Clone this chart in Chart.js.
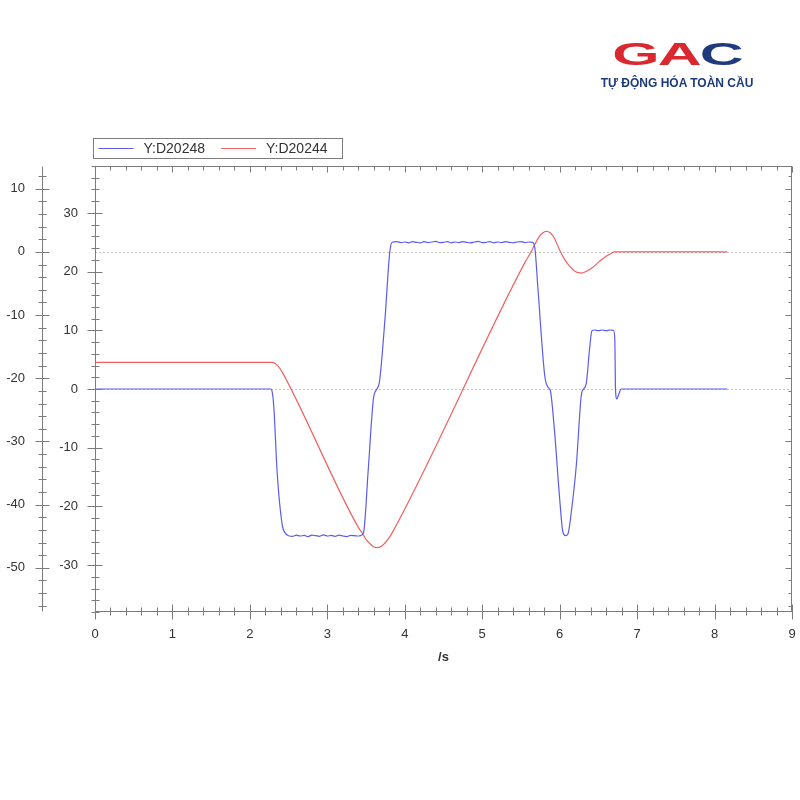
<!DOCTYPE html>
<html>
<head>
<meta charset="utf-8">
<script src="https://cdn.jsdelivr.net/npm/chart.js@4.4.1/dist/chart.umd.min.js"></script>
<style>
html,body{margin:0;padding:0;background:#fff;}
#wrap{position:relative;width:800px;height:800px;overflow:hidden;}
canvas{position:absolute;left:0;top:0;}
#gac{position:absolute;left:597px;top:38px;width:160px;text-align:center;font:bold 32px/32px "Liberation Sans",Arial,sans-serif;transform:scaleX(1.9);transform-origin:50% 50%;letter-spacing:-1px;}
#tag{position:absolute;left:597px;top:76px;width:160px;text-align:center;font:bold 12px/14px "Liberation Sans",Arial,sans-serif;color:#1d3b7c;white-space:nowrap;}
</style>
</head>
<body>
<div id="wrap">
<canvas id="c" width="800" height="800"></canvas>
<div id="gac"><span style="color:#d9282f">GA</span><span style="color:#1f3b7d">C</span></div>
<div id="tag">TỰ ĐỘNG HÓA TOÀN CẦU</div>
</div>
<script>
// ---- data ----
const blueLabel = 'Y:D20248';
const redLabel = 'Y:D20244';

const xTickValues = [0, 1, 2, 3, 4, 5, 6, 7, 8, 9];
const innerTickValues = [-30, -20, -10, 0, 10, 20, 30];
const outerTickValues = [-50, -40, -30, -20, -10, 0, 10];

const blueTimes = [
  0, 1.0, 2.27, 2.288, 2.308, 2.352, 2.417, 2.459, 2.502,
  2.55, 2.60, 2.65, 2.70, 2.75, 2.80, 2.85, 2.90, 2.95, 3.00,
  3.05, 3.10, 3.15, 3.20, 3.25, 3.30, 3.35, 3.40,
  3.425, 3.467, 3.528, 3.596, 3.640, 3.673, 3.747, 3.805, 3.837,
  3.90, 3.95, 4.00, 4.05, 4.10,
  4.15, 4.20, 4.25, 4.30, 4.35,
  4.40, 4.45, 4.50, 4.55, 4.60,
  4.65, 4.70, 4.75, 4.80, 4.85,
  4.90, 4.95, 5.00, 5.05, 5.10,
  5.15, 5.20, 5.25, 5.30, 5.35,
  5.40, 5.45, 5.50, 5.55, 5.60,
  5.648, 5.678, 5.720, 5.807, 5.849, 5.880, 5.935, 6.000, 6.042, 6.077,
  6.107, 6.150, 6.215, 6.279, 6.309, 6.343, 6.386, 6.416, 6.450,
  6.50, 6.55, 6.60, 6.65, 6.695, 6.712, 6.721, 6.738, 6.763, 6.794,
  7.2, 7.7, 8.163
];
const blueValues = [
  0, 0, 0, -0.5, -2.8, -14.2, -23.1, -24.6, -25.0,
  -25.1, -24.9, -25.05, -24.95, -25.15, -24.9, -25.0, -25.1, -24.85, -25.05,
  -24.95, -25.1, -24.9, -25.05, -25.15, -24.95, -25.0, -25.05,
  -25.0, -24.5, -13.8, -1.6, 0, 1.2, 12.4, 23.2, 25.0,
  25.1, 24.95, 25.05, 24.9, 25.1,
  25.0, 24.9, 25.1, 24.95, 25.05,
  25.15, 24.95, 25.0, 25.1, 24.9,
  25.05, 24.95, 25.1, 25.0, 24.9,
  25.05, 25.15, 24.95, 25.0, 25.1,
  24.9, 25.05, 24.95, 25.1, 25.0,
  24.9, 25.05, 25.1, 24.95, 25.05,
  25.0, 24.2, 17.0, 2.3, 0.3, -0.3, -7.4, -18.7, -24.4, -25.0,
  -24.7, -21.0, -13.0, -1.1, 0, 0.9, 6.8, 9.9, 10.05,
  9.95, 10.05, 9.95, 10.05, 10.0, 8.5, 0, -1.7, -0.9, 0,
  0, 0, 0
];

const redTimes = [
  0, 2.29, 2.33, 2.38, 2.43, 3.40, 3.45, 3.50, 3.55, 3.60,
  3.65, 3.70, 3.75, 3.80, 3.85, 5.55, 5.63, 5.68, 5.73, 5.78,
  5.83, 5.88, 5.93, 6.00, 6.06, 6.13, 6.20, 6.28, 6.34, 6.42,
  6.515, 6.60, 6.67, 6.71, 8.163
];
const redValues = [
  -17.5, -17.5, -17.7, -18.3, -19.3, -43.6, -44.5, -45.5, -46.2, -46.7,
  -46.8, -46.6, -46.0, -45.2, -44.2, -1.7, 0.0, 1.2, 2.3, 3.0,
  3.25, 3.0, 2.2, 0.3, -1.1, -2.3, -3.1, -3.35, -3.1, -2.5,
  -1.5, -0.7, -0.2, 0, 0
];

// ---- styling ----
const FONT = '"Liberation Sans", Arial, sans-serif';
Chart.defaults.font.family = FONT;
Chart.defaults.font.size = 13;
Chart.defaults.color = '#333';

const BLUE = 'rgb(92,92,236)';
const RED = 'rgb(240,98,98)';
const FRAME = '#7c7c7c';

function seg(ctx, x1, y1, x2, y2) {
  ctx.beginPath(); ctx.moveTo(x1, y1); ctx.lineTo(x2, y2); ctx.stroke();
}

const zeroLines = {
  id: 'zeroLines',
  beforeDatasetsDraw(chart) {
    const {ctx, chartArea: a, scales} = chart;
    ctx.save();
    ctx.strokeStyle = '#c4c4c4';
    ctx.lineWidth = 1;
    ctx.setLineDash([2, 2]);
    [scales.yOuter.getPixelForValue(0), scales.yInner.getPixelForValue(0)].forEach(y => {
      const py = Math.round(y) + 0.5;
      seg(ctx, a.left, py, a.right, py);
    });
    ctx.restore();
  }
};

const frameTicks = {
  id: 'frameTicks',
  afterDraw(chart) {
    const {ctx, chartArea: a, scales} = chart;
    const x = scales.x, yi = scales.yInner, yo = scales.yOuter;
    ctx.save();
    ctx.strokeStyle = FRAME;
    ctx.lineWidth = 1;
    const L = Math.round(a.left) + 0.5, R = Math.round(a.right) - 0.5;
    const T = Math.round(a.top) + 0.5, B = Math.round(a.bottom) - 0.5;
    ctx.strokeRect(L, T, R - L, B - T);
    for (let i = 0; i <= 45; i++) {
      const v = i / 5;
      const px = Math.round(x.getPixelForValue(v)) + 0.5;
      const major = i % 5 === 0;
      seg(ctx, px, B - (major ? 7 : 4), px, B + (major ? 8 : 4));
      seg(ctx, px, T, px, T + (major ? 6 : 4));
    }
    for (let v = -38; v <= 38; v += 2) {
      const py = Math.round(yi.getPixelForValue(v)) + 0.5;
      const major = v % 10 === 0;
      seg(ctx, L - (major ? 8 : 4), py, L + (major ? 7 : 4), py);
    }
    const OX = Math.round(yo.right - 16) + 0.5;
    seg(ctx, OX, T, OX, B);
    for (let v = -56; v <= 12; v += 2) {
      const py = Math.round(yo.getPixelForValue(v)) + 0.5;
      const major = v % 10 === 0;
      seg(ctx, OX - (major ? 7 : 4), py, OX + (major ? 7 : 4), py);
      seg(ctx, R - (major ? 6 : 3), py, R, py);
    }
    ctx.restore();
  }
};

const boxLegend = {
  id: 'boxLegend',
  afterDraw(chart) {
    const {ctx, chartArea: a} = chart;
    ctx.save();
    ctx.font = '14px ' + FONT;
    const bx = Math.round(a.left) - 2 + 0.5, by = Math.round(a.top) - 28 + 0.5, bh = 20;
    let cx = bx + 5;
    ctx.textBaseline = 'middle';
    chart.data.datasets.forEach((ds, i) => {
      ctx.strokeStyle = ds.borderColor;
      ctx.lineWidth = 1;
      seg(ctx, cx, by + bh / 2, cx + 35, by + bh / 2);
      cx += 45;
      ctx.fillStyle = '#333';
      ctx.fillText(ds.label, cx, by + bh / 2 + 1);
      cx += ctx.measureText(ds.label).width + (i === 0 ? 16 : 15);
    });
    ctx.strokeStyle = FRAME;
    ctx.strokeRect(bx, by, cx - bx, bh);
    ctx.restore();
  }
};

new Chart(document.getElementById('c'), {
  type: 'line',
  data: {
    datasets: [
      {
        label: blueLabel,
        data: blueTimes.map((t, i) => ({x: t, y: blueValues[i]})),
        yAxisID: 'yInner',
        borderColor: BLUE,
        borderWidth: 1.2,
        pointRadius: 0,
        fill: false,
        cubicInterpolationMode: 'monotone'
      },
      {
        label: redLabel,
        data: redTimes.map((t, i) => ({x: t, y: redValues[i]})),
        yAxisID: 'yOuter',
        borderColor: RED,
        borderWidth: 1.2,
        pointRadius: 0,
        fill: false,
        cubicInterpolationMode: 'monotone'
      }
    ]
  },
  options: {
    responsive: false,
    animation: false,
    layout: {padding: {top: 166, left: 0, right: 8, bottom: 135}},
    plugins: {legend: {display: false}, tooltip: {enabled: false}},
    scales: {
      x: {
        type: 'linear',
        min: 0, max: 9,
        afterBuildTicks: s => { s.ticks = xTickValues.map(v => ({value: v})); },
        afterFit: s => { s.height = 53; s.paddingLeft = 0; s.paddingRight = 0; },
        grid: {display: false, drawTicks: false},
        border: {display: false},
        ticks: {padding: 15, maxRotation: 0, color: '#333'},
        title: {display: true, text: '/s', font: {size: 13, weight: 'bold'}, color: '#333', padding: {top: 8, bottom: 0}}
      },
      yInner: {
        position: 'left',
        weight: 0,
        min: -38, max: 38,
        afterBuildTicks: s => { s.ticks = innerTickValues.map(v => ({value: v})); },
        afterFit: s => { s.width = 37; },
        grid: {display: false, drawTicks: false},
        border: {display: false},
        ticks: {padding: 17, color: '#333'}
      },
      yOuter: {
        position: 'left',
        weight: 1,
        min: -57, max: 13.6,
        afterBuildTicks: s => { s.ticks = outerTickValues.map(v => ({value: v})); },
        afterFit: s => { s.width = 58; },
        grid: {display: false, drawTicks: false},
        border: {display: false},
        ticks: {padding: 33, color: '#333'}
      }
    }
  },
  plugins: [zeroLines, frameTicks, boxLegend]
});
</script>
</body>
</html>
